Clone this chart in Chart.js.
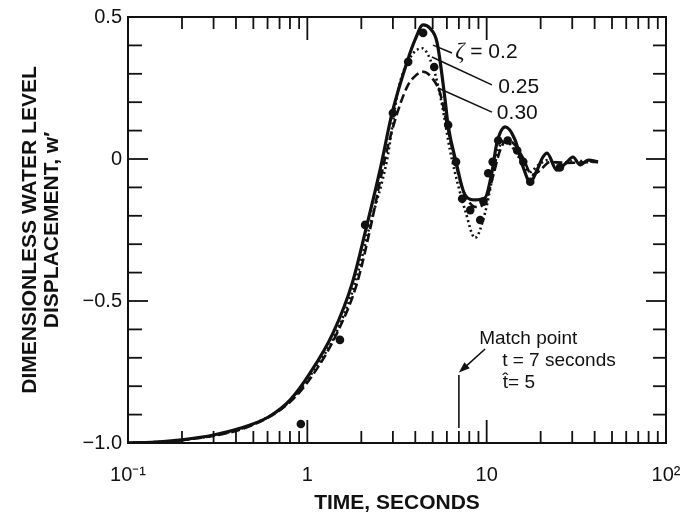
<!DOCTYPE html>
<html>
<head>
<meta charset="utf-8">
<script src="https://cdn.jsdelivr.net/npm/chart.js@4.4.1/dist/chart.umd.min.js"></script>
<style>
  html, body { margin: 0; padding: 0; background: #fff; }
  #wrap { width: 680px; height: 516px; }
</style>
</head>
<body>
<div id="wrap"><canvas id="chart" width="680" height="516"></canvas></div>
<script>
const FONT = '"Liberation Sans", Arial, sans-serif';
const INK = '#111';

// axes
const xMajor = [0.1, 1, 10, 100];
const xTickLabels = ['10\u207B\u00B9', '1', '10', '10\u00B2'];
const xMinor = [0.2, 0.3, 0.4, 0.5, 0.6, 0.7, 0.8, 0.9, 2, 3, 4, 5, 6, 7, 8, 9, 20, 30, 40, 50, 60, 70, 80, 90];
const yMajor = [-1.0, -0.5, 0, 0.5];
const yTickLabels = ['\u22121.0', '\u22120.5', '0', '0.5'];
const yMinor = [-0.9, -0.8, -0.7, -0.6, -0.4, -0.3, -0.2, -0.1, 0.1, 0.2, 0.3, 0.4];

// zeta = 0.2 (solid)
const tSolid = [0.1, 0.151, 0.2, 0.3, 0.48, 0.62, 0.8, 1.035, 1.39, 1.78, 2.15, 2.54, 2.97, 3.6, 3.99, 4.42, 4.83, 5.29, 5.86, 6.09, 6.75, 7.58, 8.61, 9.79, 10.7, 11.4, 12.7, 14.4, 15.96, 17.5, 19.1, 20.6, 21.7, 24.6, 27.7, 30.3, 33.2, 36.8, 41.8];
const wSolid = [-1.0, -0.996, -0.989, -0.972, -0.937, -0.905, -0.849, -0.754, -0.613, -0.437, -0.232, -0.04, 0.162, 0.342, 0.42, 0.472, 0.46, 0.41, 0.21, 0.12, -0.01, -0.127, -0.144, -0.137, -0.046, 0.056, 0.113, 0.067, -0.028, -0.081, -0.039, 0.007, 0.021, -0.039, -0.014, 0.007, -0.021, -0.004, -0.01];

// zeta = 0.25 (dotted)
const tDotted = [0.1, 0.2, 0.48, 0.8, 1.062, 1.446, 1.845, 2.237, 2.78, 3.21, 3.74, 4.36, 5.02, 5.57, 6.25, 6.93, 7.58, 8.61, 9.79, 10.7, 11.6, 12.7, 14.0, 15.7, 17.5, 19.4, 22.0, 25.6, 31.1, 41.8];
const wDotted = [-1.0, -0.99, -0.938, -0.852, -0.754, -0.613, -0.437, -0.232, -0.004, 0.243, 0.356, 0.39, 0.324, 0.208, 0.03, -0.092, -0.18, -0.278, -0.19, -0.074, 0.032, 0.067, 0.039, -0.01, -0.046, -0.021, -0.004, -0.014, -0.007, -0.01];

// zeta = 0.30 (dashed)
const tDashed = [0.1, 0.2, 0.48, 0.8, 1.09, 1.464, 1.894, 2.266, 2.644, 3.006, 3.6, 3.99, 4.42, 4.96, 5.5, 6.01, 6.66, 7.39, 8.73, 9.92, 10.9, 11.9, 13.0, 14.4, 15.96, 17.9, 19.9, 22.6, 27.4, 41.8];
const wDashed = [-1.0, -0.99, -0.94, -0.856, -0.754, -0.613, -0.437, -0.232, -0.028, 0.113, 0.254, 0.292, 0.307, 0.285, 0.232, 0.12, -0.004, -0.11, -0.169, -0.144, -0.056, 0.032, 0.067, 0.049, 0.004, -0.056, -0.039, -0.01, -0.014, -0.01];

// measured water levels
const tObs = [0.92, 1.52, 2.1, 3.0, 3.65, 4.42, 5.1, 6.1, 6.75, 7.3, 8.1, 9.2, 9.6, 10.2, 10.8, 11.6, 13.1, 14.8, 16.0, 17.5, 25.6];
const wObs = [-0.933, -0.637, -0.232, 0.162, 0.342, 0.444, 0.324, 0.12, -0.01, -0.14, -0.18, -0.215, -0.15, -0.05, -0.01, 0.065, 0.065, 0.03, -0.01, -0.08, -0.03];

// curve labels and their leader lines (data units)
const curveLabels = ['0.2', '0.25', '0.30'];
const labelAt = [[6.67, 0.377], [11.6, 0.254], [11.4, 0.162]];
const leaderFrom = [[5.02, 0.401], [4.95, 0.359], [5.36, 0.25]];
const leaderTo = [[6.41, 0.373], [10.7, 0.261], [10.7, 0.165]];

// match point note
const matchT = 7;
const matchLine = [-0.761, -0.947];
const arrowFrom = [9.8, -0.669];
const arrowTo = [7.0, -0.752];
const noteLines = ['Match point', 't = 7 seconds', 't\u0302= 5'];
const noteAt = [[9.08, -0.634], [12.2, -0.711], [12.3, -0.789]];

const pts = (ts, ws) => ts.map((t, i) => ({ x: t, y: ws[i] }));

const frameTicks = {
  id: 'frameTicks',
  afterDatasetsDraw(chart) {
    const { ctx, chartArea: a, scales: { x, y } } = chart;
    const seg = (x1, y1, x2, y2) => { ctx.beginPath(); ctx.moveTo(x1, y1); ctx.lineTo(x2, y2); ctx.stroke(); };
    ctx.save();
    ctx.strokeStyle = INK;
    ctx.lineWidth = 2;
    ctx.strokeRect(a.left, a.top, a.right - a.left, a.bottom - a.top);
    ctx.lineWidth = 1.8;
    xMajor.forEach(v => { const p = x.getPixelForValue(v); seg(p, a.bottom, p, a.bottom - 23); seg(p, a.top, p, a.top + 23); });
    xMinor.forEach(v => { const p = x.getPixelForValue(v); seg(p, a.bottom, p, a.bottom - 12); seg(p, a.top, p, a.top + 12); });
    yMajor.forEach(v => { const p = y.getPixelForValue(v); seg(a.left, p, a.left + 20, p); seg(a.right, p, a.right - 20, p); });
    yMinor.forEach(v => { const p = y.getPixelForValue(v); seg(a.left, p, a.left + 14, p); seg(a.right, p, a.right - 13, p); });
    ctx.restore();
  }
};

const notes = {
  id: 'notes',
  afterDatasetsDraw(chart) {
    const { ctx, scales: { x, y } } = chart;
    const px = d => [x.getPixelForValue(d[0]), y.getPixelForValue(d[1])];
    ctx.save();
    ctx.strokeStyle = INK;
    ctx.fillStyle = INK;
    ctx.lineWidth = 1.6;
    ctx.textBaseline = 'middle';

    // leaders + labels
    leaderFrom.forEach((f, i) => {
      const [x1, y1] = px(f), [x2, y2] = px(leaderTo[i]);
      ctx.beginPath(); ctx.moveTo(x1, y1); ctx.lineTo(x2, y2); ctx.stroke();
    });
    labelAt.forEach((p, i) => {
      let [lx, ly] = px(p);
      if (i === 0) {
        ctx.font = 'italic 23px "Liberation Serif", serif';
        ctx.fillText('\u03B6', lx, ly);
        lx += ctx.measureText('\u03B6').width;
        ctx.font = '21px ' + FONT;
        ctx.fillText(' = ' + curveLabels[i], lx, ly);
      } else {
        ctx.font = '21px ' + FONT;
        ctx.fillText(curveLabels[i], lx, ly);
      }
    });

    // match point
    const mx = x.getPixelForValue(matchT);
    ctx.beginPath(); ctx.moveTo(mx, y.getPixelForValue(matchLine[0])); ctx.lineTo(mx, y.getPixelForValue(matchLine[1])); ctx.stroke();
    const [ax, ay] = px(arrowFrom), [bx, by] = px(arrowTo);
    const ang = Math.atan2(by - ay, bx - ax);
    ctx.beginPath(); ctx.moveTo(ax, ay); ctx.lineTo(bx - 6 * Math.cos(ang), by - 6 * Math.sin(ang)); ctx.stroke();
    ctx.beginPath();
    ctx.moveTo(bx, by);
    ctx.lineTo(bx - 11 * Math.cos(ang) + 4 * Math.sin(ang), by - 11 * Math.sin(ang) - 4 * Math.cos(ang));
    ctx.lineTo(bx - 11 * Math.cos(ang) - 4 * Math.sin(ang), by - 11 * Math.sin(ang) + 4 * Math.cos(ang));
    ctx.closePath(); ctx.fill();

    ctx.font = '19px ' + FONT;
    noteLines.forEach((s, i) => { const [nx, ny] = px(noteAt[i]); ctx.fillText(s, nx, ny); });
    ctx.restore();
  }
};

const config = {
  type: 'scatter',
  data: {
    datasets: [
      { label: '0.2', data: pts(tSolid, wSolid), showLine: true, borderColor: INK, borderWidth: 3.2, pointRadius: 0, cubicInterpolationMode: 'monotone' },
      { label: '0.25', data: pts(tDotted, wDotted), showLine: true, borderColor: INK, borderWidth: 2.6, borderDash: [2, 3], pointRadius: 0, cubicInterpolationMode: 'monotone' },
      { label: '0.30', data: pts(tDashed, wDashed), showLine: true, borderColor: INK, borderWidth: 2.6, borderDash: [9, 4], pointRadius: 0, cubicInterpolationMode: 'monotone' },
      { label: 'measured', data: pts(tObs, wObs), showLine: false, pointRadius: 4.3, pointBackgroundColor: INK, pointBorderWidth: 0 },
    ],
  },
  options: {
    responsive: false,
    animation: false,
    layout: { padding: { top: 17, right: 14, bottom: 0, left: 0 } },
    plugins: { legend: { display: false }, tooltip: { enabled: false } },
    scales: {
      x: {
        type: 'logarithmic',
        min: 0.1,
        max: 100,
        grid: { display: false, drawTicks: false },
        border: { display: false },
        afterBuildTicks: s => { s.ticks = xMajor.map(v => ({ value: v, major: true })); },
        afterFit: s => { s.height = 73; s.paddingLeft = 0; s.paddingRight = 0; },
        ticks: {
          autoSkip: false,
          maxRotation: 0,
          padding: 20,
          color: INK,
          font: { family: FONT, size: 20 },
          callback: v => xTickLabels[xMajor.indexOf(v)],
        },
        title: {
          display: true,
          text: 'TIME, SECONDS',
          color: INK,
          font: { family: FONT, size: 21, weight: 'bold' },
          padding: { top: 0, bottom: 0 },
        },
      },
      y: {
        type: 'linear',
        min: -1.0,
        max: 0.5,
        grid: { display: false, drawTicks: false },
        border: { display: false },
        afterBuildTicks: s => { s.ticks = yMajor.map(v => ({ value: v })); },
        afterFit: s => { s.width = 128; s.paddingTop = 0; s.paddingBottom = 0; },
        ticks: {
          autoSkip: false,
          padding: 6,
          color: INK,
          font: { family: FONT, size: 20 },
          callback: v => yTickLabels[yMajor.indexOf(v)],
        },
        title: {
          display: true,
          text: ['DIMENSIONLESS WATER LEVEL', 'DISPLACEMENT, w\u2032'],
          color: INK,
          font: { family: FONT, size: 21, weight: 'bold', lineHeight: 1.05 },
          padding: { top: 19, bottom: 0 },
        },
      },
    },
  },
  plugins: [frameTicks, notes],
};

new Chart(document.getElementById('chart'), config);
</script>
</body>
</html>
